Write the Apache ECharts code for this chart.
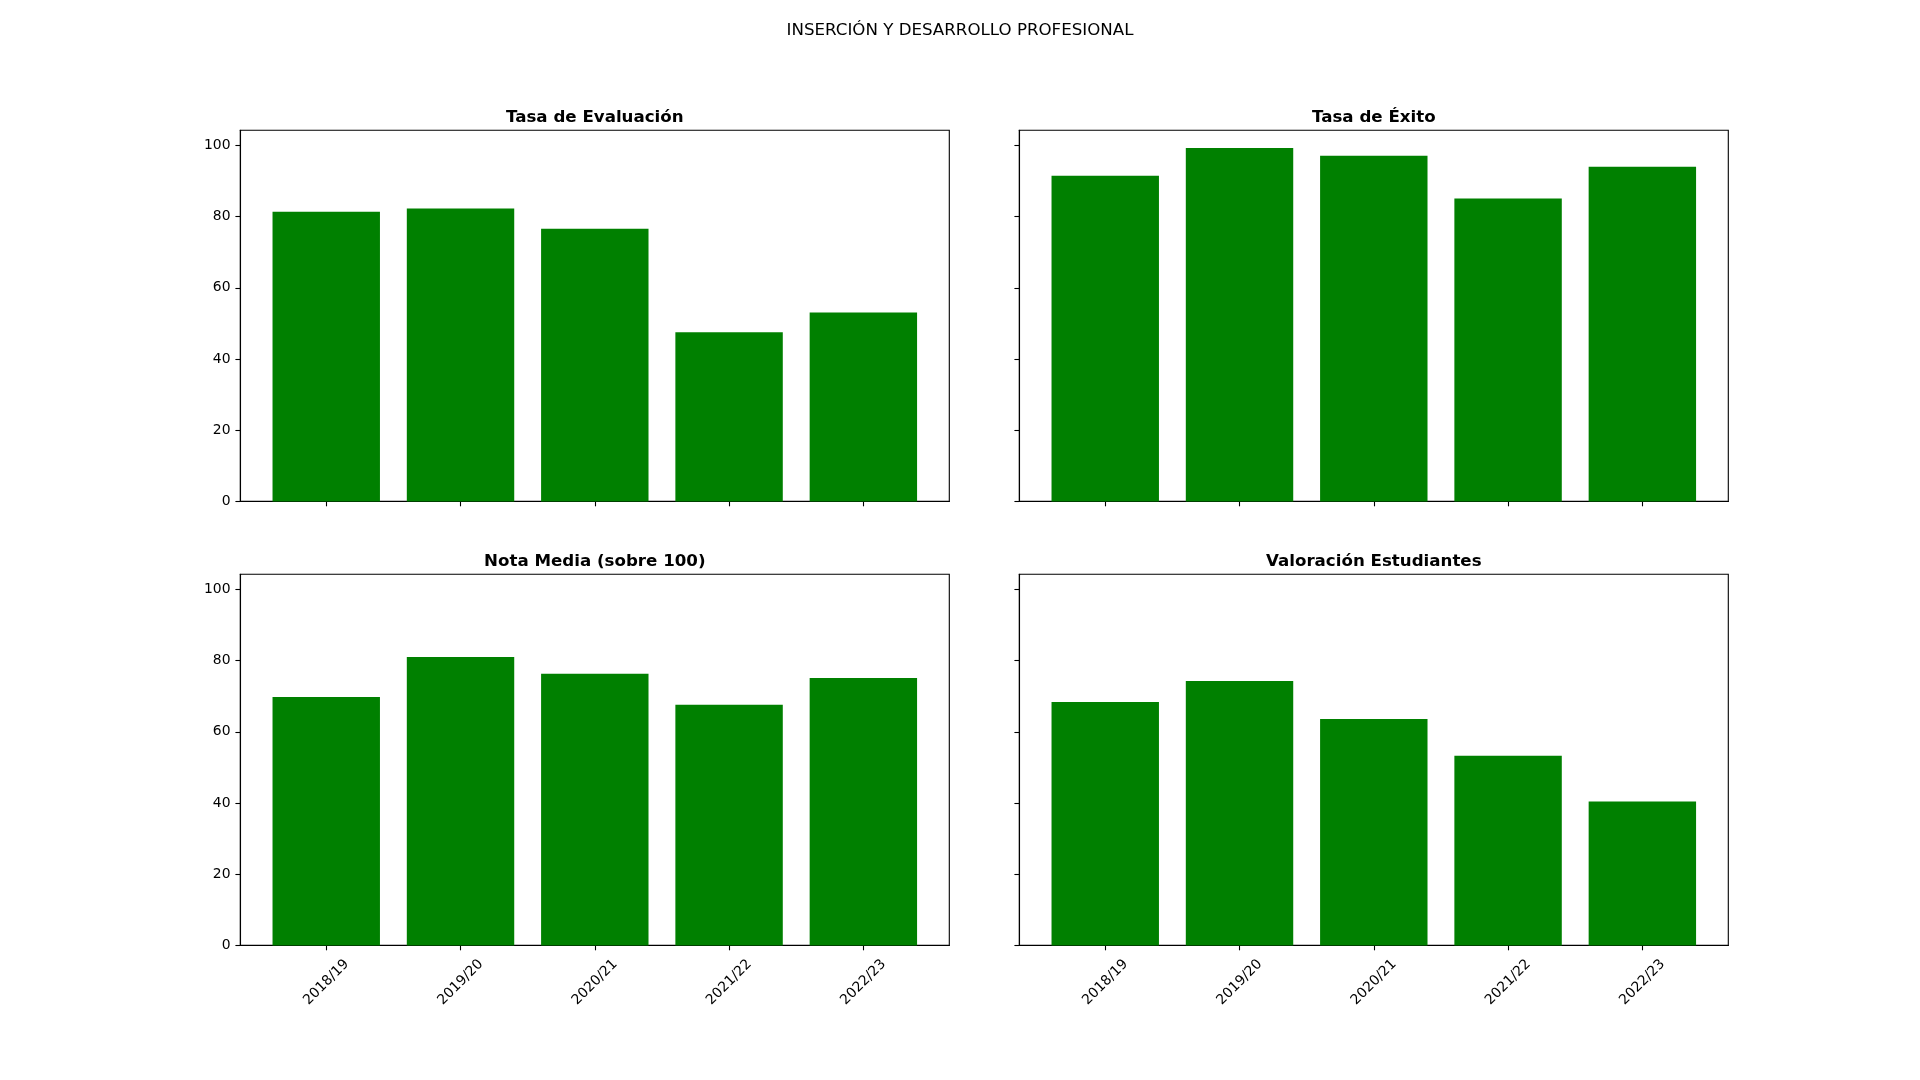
<!DOCTYPE html>
<html><head><meta charset="utf-8">
<script src="https://cdn.jsdelivr.net/npm/echarts@6/dist/echarts.min.js"></script>
<style>html,body{margin:0;padding:0;background:#fff}#c{width:1920px;height:1080px}</style>
</head><body><div id="c"></div>
<script>
// ---- data ----
const categories = ['2018/19', '2019/20', '2020/21', '2021/22', '2022/23'];
const tasaEvaluacion = [81.4, 82.3, 76.6, 47.5, 53.1];
const tasaExito = [91.5, 99.3, 97.1, 85.1, 94.0];
const notaMedia = [69.8, 81.0, 76.3, 67.6, 75.1];
const valoracionEstudiantes = [68.4, 74.3, 63.6, 53.3, 40.4];
const yTicks = [0, 20, 40, 60, 80, 100];
const panelTitles = ['Tasa de Evaluación', 'Tasa de Éxito', 'Nota Media (sobre 100)', 'Valoración Estudiantes'];
const mainTitle = 'INSERCIÓN Y DESARROLLO PROFESIONAL';

// ---- layout ----
const FONT = 'DejaVu Sans';
const panels = [
  { title: panelTitles[0], data: tasaEvaluacion, left: 240.3, top: 130.3, showY: true, showX: false },
  { title: panelTitles[1], data: tasaExito, left: 1019.3, top: 130.3, showY: false, showX: false },
  { title: panelTitles[2], data: notaMedia, left: 240.3, top: 574.3, showY: true, showX: true },
  { title: panelTitles[3], data: valoracionEstudiantes, left: 1019.3, top: 574.3, showY: false, showX: true }
];
const W = 709, H = 371.1;
const n = categories.length;
const lo = -0.4, hi = n - 1 + 0.4, pad = 0.05 * (hi - lo);
const xMin = lo - pad, xMax = hi + pad;
const barPx = 0.8 * W / (xMax - xMin);
const allVals = [].concat(tasaEvaluacion, tasaExito, notaMedia, valoracionEstudiantes);
const yMax = Math.max.apply(null, allVals) * 1.05;
const xIdx = categories.map((c, i) => i);

const option = {
  backgroundColor: '#fff',
  animation: false,
  title: [{
    text: mainTitle, left: 960, top: 20.5, textAlign: 'center', padding: 0,
    textStyle: { fontFamily: FONT, fontSize: 16.67, fontWeight: 'normal', color: '#000', lineHeight: 20 }
  }].concat(panels.map((p, i) => ({
    text: p.title, left: p.left + W / 2, top: p.top - 23, textAlign: 'center', padding: 0,
    textStyle: { fontFamily: FONT, fontSize: 16.67, fontWeight: 'bold', color: '#000', lineHeight: 20 }
  }))),
  grid: panels.map(p => ({
    left: p.left, top: p.top, width: W, height: H,
    show: true, borderColor: '#000', borderWidth: 1.1, backgroundColor: 'transparent'
  })),
  xAxis: panels.map((p, i) => ({
    type: 'value', gridIndex: i, min: xMin, max: xMax,
    axisLine: { show: true, onZero: false, lineStyle: { color: '#000', width: 1.1 } },
    axisTick: { show: true, length: 4.9, lineStyle: { color: '#000', width: 1.1 }, customValues: xIdx },
    axisLabel: {
      show: p.showX, customValues: xIdx, formatter: v => categories[Math.round(v)],
      rotate: 45, align: 'center', verticalAlign: 'middle', margin: 37,
      fontFamily: FONT, fontSize: 13.9, color: '#000'
    },
    splitLine: { show: false }
  })),
  yAxis: panels.map((p, i) => ({
    type: 'value', gridIndex: i, min: 0, max: yMax,
    axisLine: { show: true, onZero: false, lineStyle: { color: '#000', width: 1.1 } },
    axisTick: { show: true, length: 4.9, lineStyle: { color: '#000', width: 1.1 }, customValues: yTicks },
    axisLabel: {
      show: p.showY, customValues: yTicks, margin: 9.8,
      fontFamily: FONT, fontSize: 13.9, color: '#000'
    },
    splitLine: { show: false }
  })),
  series: panels.map((p, i) => ({
    type: 'bar', xAxisIndex: i, yAxisIndex: i,
    data: p.data.map((v, k) => [xIdx[k], v]),
    barWidth: barPx,
    itemStyle: { color: '#008000' },
    emphasis: { disabled: true }
  }))
};
echarts.init(document.getElementById('c')).setOption(option);
</script>
</body></html>
